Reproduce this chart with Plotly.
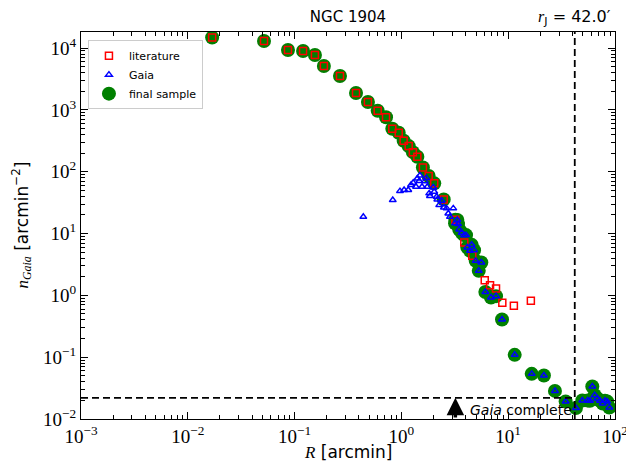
import numpy as np
import plotly.graph_objects as go

# literature profile (red squares)
lit_R = [0.0169, 0.0517, 0.0867, 0.120, 0.155, 0.188, 0.266, 0.376, 0.486, 0.600,
         0.718, 0.822, 0.944, 1.05, 1.17, 1.28, 1.41, 1.59, 1.80, 2.03,
         2.49, 3.20, 3.88, 4.61, 6.03, 6.76, 7.69, 8.81, 11.3, 16.3]
lit_n = [14800, 13000, 9280, 8930, 7710, 5120, 3520, 1870, 1340, 966,
         757, 494, 426, 316, 259, 207, 174, 117, 85, 64.7,
         35.6, 16.7, 7.18, 4.35, 1.76, 1.46, 1.29, 0.757, 0.676, 0.815]

# Gaia profile (blue triangles)
gaia_R = [0.44, 0.83, 0.97, 1.06, 1.16, 1.23, 1.29, 1.37, 1.41, 1.49,
          1.47, 1.56, 1.66, 1.71, 1.75, 1.82, 1.85, 1.99, 2.03, 2.14,
          2.17, 2.26, 2.38, 2.50, 2.65, 2.75, 3.06, 2.85, 3.18, 3.34,
          3.39, 3.48, 3.67, 3.86, 4.03, 4.55, 4.14, 4.39, 4.79, 4.96,
          5.60, 5.30, 6.11, 6.90, 7.69, 8.75, 11.5, 16.6, 21.6, 27.4,
          34.5, 43.1, 49.4, 55.5, 58.3, 61.3, 64.5, 68.3, 72.4, 76.7,
          80.6, 84.7, 88.5]
gaia_n = [18.6, 34.7, 48.5, 50.4, 50.4, 60.7, 66, 57, 77.8, 87,
          70.4, 57, 69.7, 78.7, 57, 44.6, 40.3, 55.7, 47.3, 39.3,
          35.6, 28.8, 33.8, 26.4, 25.5, 21.1, 25.5, 18.6, 14.6, 16.5,
          14.2, 11.6, 10.3, 9.4, 9.42, 6.56, 5.96, 5.25, 5.38, 3.61,
          3.40, 2.49, 1.13, 0.925, 0.970, 0.407, 0.109, 0.0537, 0.0506, 0.0285,
          0.0192, 0.0151, 0.0199, 0.0199, 0.0197, 0.0336, 0.0243, 0.0215, 0.0197, 0.0178,
          0.0197, 0.0191, 0.0153]

# final sample = inner literature + outer Gaia
lit_cut = 3.25     # arcmin, literature used inside
gaia_cut = 3.1     # arcmin, Gaia used outside
r_J = 42.0
n_complete = 0.022
arrow_R = 3.2

x_tickvals = [1e-3, 1e-2, 1e-1, 1e0, 1e1, 1e2]
x_ticktext = ["10<sup>−3</sup>", "10<sup>−2</sup>", "10<sup>−1</sup>", "10<sup>0</sup>",
              "10<sup>1</sup>", "10<sup>2</sup>"]
y_tickvals = [1e-2, 1e-1, 1e0, 1e1, 1e2, 1e3, 1e4]
y_ticktext = ["10<sup>−2</sup>", "10<sup>−1</sup>", "10<sup>0</sup>", "10<sup>1</sup>",
              "10<sup>2</sup>", "10<sup>3</sup>", "10<sup>4</sup>"]

lit_R_a, lit_n_a = np.array(lit_R), np.array(lit_n)
gaia_R_a, gaia_n_a = np.array(gaia_R), np.array(gaia_n)
final_R = np.concatenate([lit_R_a[lit_R_a < lit_cut], gaia_R_a[gaia_R_a > gaia_cut]])
final_n = np.concatenate([lit_n_a[lit_R_a < lit_cut], gaia_n_a[gaia_R_a > gaia_cut]])

minor_x = [m * 10.0**e for e in range(-3, 2) for m in range(2, 10)]
minor_y = [m * 10.0**e for e in range(-2, 5) for m in range(2, 10)]

SERIF = "Liberation Serif, DejaVu Serif, serif"
SANS = "DejaVu Sans, sans-serif"
SI = "<i style='font-family:Liberation Serif'>{}</i>"

fig = go.Figure()

fig.add_trace(go.Scatter(
    x=final_R, y=final_n, mode="markers", name="final sample", legendrank=3,
    marker=dict(symbol="circle", size=14, color="green", line=dict(width=0)),
))
fig.add_trace(go.Scatter(
    x=lit_R, y=lit_n, mode="markers", name="literature", legendrank=1,
    marker=dict(symbol="square-open", size=7, color="red", line=dict(width=1.5, color="red")),
))
fig.add_trace(go.Scatter(
    x=gaia_R, y=gaia_n, mode="markers", name="Gaia", legendrank=2,
    marker=dict(symbol="triangle-up-open", size=6, color="blue", line=dict(width=1.5, color="blue")),
))

# completeness limit and Jacobi radius
fig.add_shape(type="line", xref="x", yref="y", x0=1e-3, x1=r_J, y0=n_complete, y1=n_complete,
              line=dict(color="black", width=1.8, dash="7px,4px"))
fig.add_shape(type="line", xref="x", yref="paper", x0=r_J, x1=r_J, y0=0, y1=1,
              line=dict(color="black", width=1.8, dash="7px,4px"))

fig.add_annotation(
    x=np.log10(arrow_R), y=np.log10(n_complete), ax=np.log10(arrow_R), ay=-2,
    xref="x", yref="y", axref="x", ayref="y", text="", showarrow=True,
    arrowhead=2, arrowsize=1.0, arrowwidth=3.5, arrowcolor="black",
)
fig.add_annotation(
    x=np.log10(4.2), y=np.log10(0.0139), xref="x", yref="y", xanchor="left", yanchor="middle",
    text="<i>Gaia</i> complete", showarrow=False,
    font=dict(family=SANS, size=14, color="black"),
)
fig.add_annotation(
    x=np.log10(r_J), y=1, xref="x", yref="paper", xanchor="center", yanchor="middle", yshift=15,
    text=SI.format("r") + "<sub>J</sub> = 42.0′", showarrow=False,
    font=dict(family=SANS, size=16, color="black"),
)

# axis titles as annotations so they sit where matplotlib put them
fig.add_annotation(
    x=0.5, y=0, xref="paper", yref="paper", xanchor="center", yanchor="middle", yshift=-33,
    text=SI.format("R") + " [arcmin]", showarrow=False,
    font=dict(family=SANS, size=17, color="black"),
)
fig.add_annotation(
    x=0, y=0.5, xref="paper", yref="paper", xanchor="center", yanchor="middle", xshift=-59,
    textangle=-90,
    text=SI.format("n") + "<sub>" + SI.format("Gaia") + "</sub> [arcmin<sup>−2</sup>]",
    showarrow=False, font=dict(family=SANS, size=17, color="black"),
)

axis_common = dict(
    type="log", showgrid=False, zeroline=False,
    showline=True, linecolor="black", linewidth=1.2, mirror="allticks",
    ticks="inside", ticklen=7, tickwidth=1.2, tickcolor="black",
    tickmode="array", tickfont=dict(family=SERIF, size=19, color="black"),
)

fig.update_xaxes(
    **axis_common, range=[-3, 2], tickvals=x_tickvals, ticktext=x_ticktext,
    minor=dict(ticks="inside", ticklen=4, tickwidth=1, tickcolor="black",
               tickmode="array", tickvals=minor_x, showgrid=False),
)
fig.update_yaxes(
    **axis_common, range=[-2, 4.259], tickvals=y_tickvals, ticktext=y_ticktext,
    minor=dict(ticks="inside", ticklen=4, tickwidth=1, tickcolor="black",
               tickmode="array", tickvals=minor_y, showgrid=False),
)

# page body adds an 8px offset, so the figure is drawn 8px smaller
fig.update_layout(
    width=626, height=460,
    margin=dict(l=73, r=19, t=24, b=49, autoexpand=False),
    paper_bgcolor="white", plot_bgcolor="white",
    title=dict(text="NGC 1904", x=0.5, xref="paper", xanchor="center",
               y=1, yanchor="top", pad=dict(t=3), font=dict(family=SANS, size=15, color="black")),
    legend=dict(
        x=0.013, y=0.979, xanchor="left", yanchor="top",
        bgcolor="rgba(255,255,255,0.8)", bordercolor="#cccccc", borderwidth=1,
        font=dict(family=SANS, size=11, color="black"), itemsizing="trace",
    ),
    showlegend=True,
)

fig.write_html("out.html")
